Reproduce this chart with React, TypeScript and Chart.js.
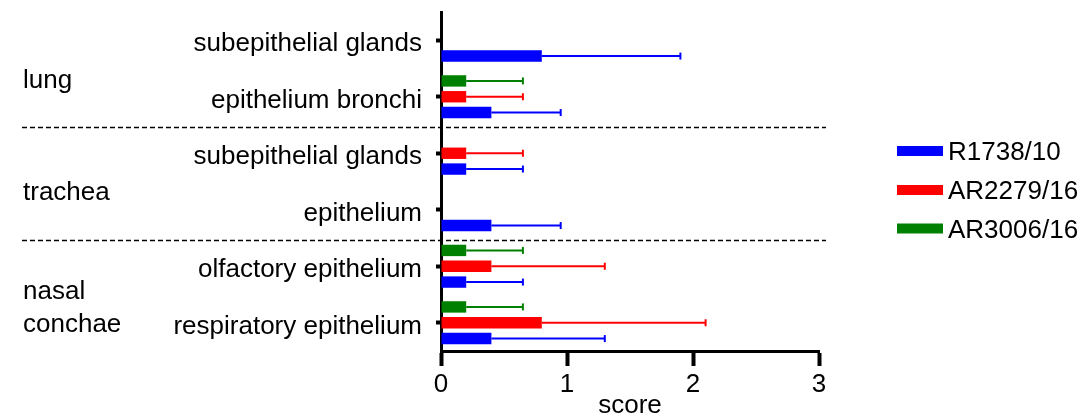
import React, { useEffect, useRef } from 'react';
import { Chart, registerables } from 'chart.js';

Chart.register(...registerables);

const categories = [
  'subepithelial glands',
  'epithelium bronchi',
  'subepithelial glands',
  'epithelium',
  'olfactory epithelium',
  'respiratory epithelium',
];
const groupNames = [['lung'], ['trachea'], ['nasal', 'conchae']];
const seriesNames = ['R1738/10', 'AR2279/16', 'AR3006/16'];
const seriesColors = ['#0000FF', '#FF0000', '#008000'];

const r1738 = [0.8, 0.4, 0.2, 0.4, 0.2, 0.4];
const r1738Err = [1.1, 0.55, 0.45, 0.55, 0.45, 0.9];
const ar2279 = [null, 0.2, 0.2, null, 0.4, 0.8];
const ar2279Err = [null, 0.45, 0.45, null, 0.9, 1.3];
const ar3006 = [null, 0.2, null, null, 0.2, 0.2];
const ar3006Err = [null, 0.45, null, null, 0.45, 0.45];

const xMin = 0;
const xMax = 3;
const xStep = 1;

const FONT = "'Liberation Sans', Arial, Helvetica, sans-serif";
const FS = 26;

const errorBarPlugin = {
  id: 'errorBars',
  afterDatasetsDraw(chart: any) {
    const ctx = chart.ctx;
    const xs = chart.scales.x;
    chart.data.datasets.forEach((ds: any, i: number) => {
      const meta = chart.getDatasetMeta(i);
      const errs = ds.errors || [];
      meta.data.forEach((el: any, j: number) => {
        const v = ds.data[j];
        const e = errs[j];
        if (v == null || e == null) return;
        const x0 = el.x;
        const x1 = xs.getPixelForValue(v + e);
        const y = el.y;
        ctx.save();
        ctx.strokeStyle = ds.backgroundColor;
        ctx.lineWidth = 2;
        ctx.beginPath();
        ctx.moveTo(x0, y);
        ctx.lineTo(x1, y);
        ctx.stroke();
        ctx.beginPath();
        ctx.moveTo(x1, y - 3.5);
        ctx.lineTo(x1, y + 3.5);
        ctx.stroke();
        ctx.restore();
      });
    });
  },
};

const decorPlugin = {
  id: 'decor',
  afterDraw(chart: any) {
    const ctx = chart.ctx;
    const ys = chart.scales.y;
    const p = (i: number) => ys.getPixelForValue(i);
    ctx.save();
    // dashed separators
    ctx.strokeStyle = '#000';
    ctx.lineWidth = 1.5;
    ctx.setLineDash([5, 3]);
    [1.5, 3.5].forEach((v) => {
      const y = Math.round((p(Math.floor(v)) + p(Math.ceil(v))) / 2 + 1.5) + 0.5;
      ctx.beginPath();
      ctx.moveTo(22, y);
      ctx.lineTo(826, y);
      ctx.stroke();
    });
    ctx.setLineDash([]);
    // group labels
    ctx.fillStyle = '#000';
    ctx.font = `${FS}px ${FONT}`;
    ctx.textAlign = 'left';
    ctx.textBaseline = 'alphabetic';
    const lungY = (p(0) + p(1)) / 2 + 19.5;
    ctx.fillText(groupNames[0][0], 23, lungY);
    const trY = (p(2) + p(3)) / 2 + 18.5;
    ctx.fillText(groupNames[1][0], 23, trY);
    const naY = (p(4) + p(5)) / 2 + 4.5;
    ctx.fillText(groupNames[2][0], 23, naY);
    ctx.fillText(groupNames[2][1], 23, naY + 32.5);
    // legend
    const ly = [151, 190, 228.5];
    seriesNames.forEach((name, i) => {
      ctx.fillStyle = seriesColors[i];
      ctx.fillRect(897, ly[i] - 5, 46, 10);
      ctx.fillStyle = '#000';
      ctx.textBaseline = 'middle';
      ctx.fillText(name, 948, ly[i] + 2);
    });
    ctx.restore();
  },
};

export default function App() {
  const ref = useRef<HTMLCanvasElement | null>(null);
  useEffect(() => {
    if (!ref.current) return;
    const chart = new Chart(ref.current, {
      type: 'bar',
      data: {
        labels: categories,
        datasets: [
          { label: seriesNames[2], data: ar3006, errors: ar3006Err, backgroundColor: seriesColors[2] } as any,
          { label: seriesNames[1], data: ar2279, errors: ar2279Err, backgroundColor: seriesColors[1] } as any,
          { label: seriesNames[0], data: r1738, errors: r1738Err, backgroundColor: seriesColors[0] } as any,
        ],
      },
      options: {
        indexAxis: 'y',
        responsive: false,
        animation: false,
        layout: { padding: { top: 12, right: 264, left: 0, bottom: 0 } },
        datasets: { bar: { categoryPercentage: 0.84, barPercentage: 0.72 } },
        plugins: { legend: { display: false }, tooltip: { enabled: false } },
        scales: {
          x: {
            type: 'linear',
            min: xMin,
            max: xMax,
            ticks: { stepSize: xStep, color: '#000', font: { family: FONT, size: FS }, padding: 3 },
            grid: { drawOnChartArea: false, tickLength: 15, tickWidth: 4, color: '#000' },
            border: { display: true, width: 3, color: '#000' },
            title: {
              display: true,
              text: 'score',
              color: '#000',
              font: { family: FONT, size: FS, lineHeight: 1 },
              padding: { top: 0, bottom: -4 },
            },
            afterFit: (s: any) => {
              s.height = 64;
              s.paddingLeft = 0;
              s.paddingRight = 0;
            },
          },
          y: {
            type: 'category',
            offset: true,
            z: 1,
            ticks: {
              color: '#000',
              font: { family: FONT, size: FS },
              padding: 14,
              labelOffset: 4,
              autoSkip: false,
            },
            grid: { drawOnChartArea: false, offset: false, tickLength: 5, tickWidth: 4, color: '#000' },
            border: { display: true, width: 3, color: '#000' },
            afterFit: (s: any) => {
              s.width = 441;
              s.paddingTop = 0;
              s.paddingBottom = 0;
            },
          },
        },
      } as any,
      plugins: [errorBarPlugin, decorPlugin],
    });
    return () => chart.destroy();
  }, []);
  return (
    <div style={{ position: 'fixed', left: 0, top: 0, width: 1083, height: 415, background: '#fff' }}>
      <canvas ref={ref} width={1083} height={415} style={{ display: 'block' }} />
    </div>
  );
}
